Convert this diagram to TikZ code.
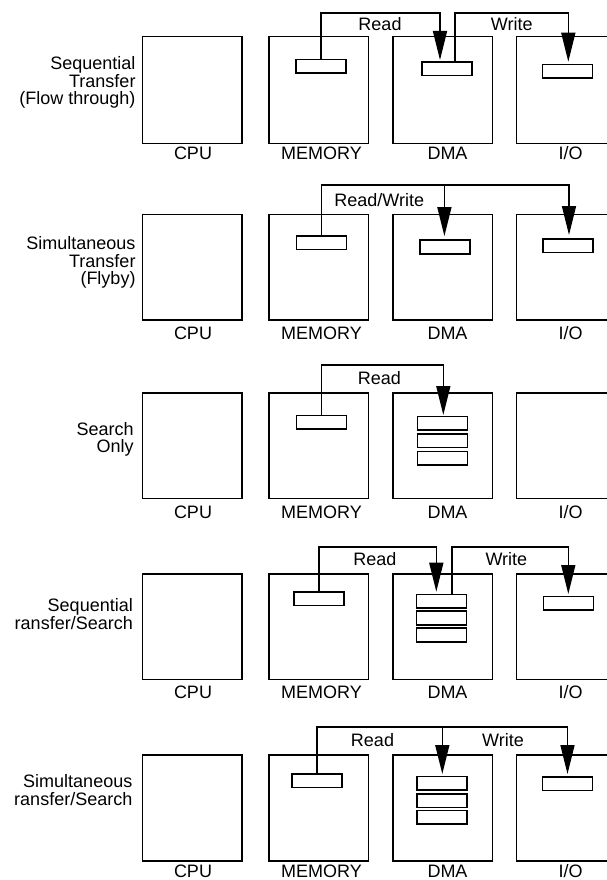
\documentclass[tikz,border=0pt]{standalone}
\usepackage{fontspec}
\setmainfont{Liberation Sans}
\usetikzlibrary{arrows.meta}
\begin{document}
\begin{tikzpicture}[x=1pt,y=-1pt,
  every node/.style={font=\fontsize{18}{17.5}\selectfont, inner sep=0pt, outer sep=0pt},
  unit/.style={draw, line width=1.6pt, minimum width=99.5pt},
  reg/.style={draw, line width=1.6pt, minimum width=50pt, minimum height=13.5pt},
  arr/.style={line width=1.6pt, -{Triangle[length=29pt,width=14pt]}},
  ulbl/.style={anchor=base},
  side/.style={anchor=east, align=right}]
\useasboundingbox (0,0) rectangle (607,880);
\clip (0,0) rectangle (607,880);
% units and labels of the five panels
\foreach \n/\t/\b/\l in {1/36.7/143.3/159.8, 2/214.3/320/339.8, 3/392.7/498.3/518.2, 4/574/679.3/698.8, 5/755/861/877.6}{
  \node[unit, minimum height={\b-\t}] (cpu\n) at (192.35,{(\t+\b)/2}) {};
  \node[unit, minimum height={\b-\t}] (mem\n) at (318.65,{(\t+\b)/2}) {};
  \node[unit, minimum height={\b-\t}] (dma\n) at (442.7,{(\t+\b)/2}) {};
  \node[unit, minimum height={\b-\t}] (io\n) at (566.35,{(\t+\b)/2}) {};
  \node[ulbl] (cpul\n) at (193,\l) {CPU};
  \node[ulbl] (meml\n) at (321.5,\l) {MEMORY};
  \node[ulbl] (dmal\n) at (447.5,\l) {DMA};
  \node[ulbl] (iol\n) at (570.5,\l) {I/O};
}
% side texts
\node[side] (s1) at (135.5,82.7) {Sequential\\Transfer\\(Flow through)};
\node[side] (s2) at (135.5,262.7) {Simultaneous\\Transfer\\(Flyby)};
\node[side] (s3) at (133.6,439.5) {Search\\Only};
\node[side] (s4) at (132.8,614.2) {Sequential\\ransfer/Search};
\node[side] (s5) at (132.3,790) {Simultaneous\\ransfer/Search};

% ---------- panel 1
\node[reg] (m1) at (320.7,66.35) {};
\node[reg] (d1) at (447,68.7) {};
\node[reg] (i1) at (567.5,71.3) {};
\coordinate (t1) at (0,13.3);
\coordinate (ra1) at (440,60);
\coordinate (ws1) at (455,0);
\coordinate (wa1) at (568.3,61.7);
\draw[arr] (m1.north) -- (m1.north |- t1) -| (ra1);
\draw[arr] (d1.north -| ws1) -- (ws1 |- t1) -| (wa1);
\node (rd1) at (380,24) {Read};
\node (wr1) at (511.7,24) {Write};

% ---------- panel 2
\node[reg] (m2) at (321.5,242.7) {};
\node[reg] (d2) at (445.2,247) {};
\node[reg] (i2) at (568.2,245.8) {};
\coordinate (t2) at (0,185);
\coordinate (ra2) at (444.4,236);
\coordinate (wa2) at (569,235);
\draw[arr] (m2.north) -- (m2.north |- t2) -| (wa2);
\draw[arr] (ra2 |- t2) -- (ra2);
\node (rw2) at (379.2,200) {Read/Write};

% ---------- panel 3
\node[reg] (m3) at (321.5,422.35) {};
\node[reg] (d3a) at (442.3,423.35) {};
\node[reg] (d3b) at (442.3,440.65) {};
\node[reg] (d3c) at (442.3,458.15) {};
\coordinate (t3) at (0,365);
\coordinate (ra3) at (443.3,415);
\draw[arr] (m3.north) -- (m3.north |- t3) -| (ra3);
\node (rd3) at (379.4,378.3) {Read};

% ---------- panel 4
\node[reg] (m4) at (318.8,598.7) {};
\node[reg] (d4a) at (441.5,601.35) {};
\node[reg] (d4b) at (441.5,618) {};
\node[reg] (d4c) at (441.5,635) {};
\node[reg] (i4) at (568.5,603.35) {};
\coordinate (t4) at (0,546.7);
\coordinate (ra4) at (436.3,591.7);
\coordinate (ws4) at (451.8,0);
\coordinate (wa4) at (568.3,594);
\draw[arr] (m4.north) -- (m4.north |- t4) -| (ra4);
\draw[arr] (d4a.north -| ws4) -- (ws4 |- t4) -| (wa4);
\node (rd4) at (374.8,559.3) {Read};
\node (wr4) at (506.4,559.3) {Write};

% ---------- panel 5
\node[reg] (m5) at (317,780.65) {};
\node[reg] (d5a) at (441.7,783.35) {};
\node[reg] (d5b) at (441.7,800.65) {};
\node[reg] (d5c) at (441.7,817.35) {};
\node[reg] (i5) at (567.5,783.85) {};
\coordinate (t5) at (0,726.7);
\coordinate (ra5) at (442.3,774);
\coordinate (wa5) at (567.5,774);
\draw[arr] (m5.north) -- (m5.north |- t5) -| (wa5);
\draw[arr] (ra5 |- t5) -- (ra5);
\node (rd5) at (372.5,740) {Read};
\node (wr5) at (503,740) {Write};
\end{tikzpicture}
\end{document}
